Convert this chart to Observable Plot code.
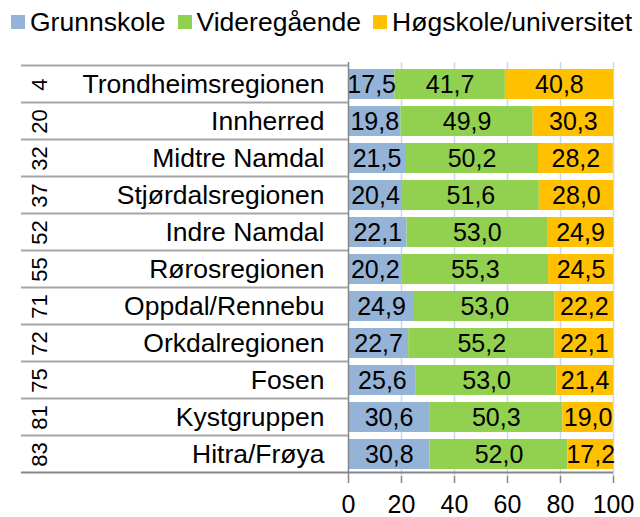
<!DOCTYPE html>
<html><head><meta charset="utf-8">
<script src="https://cdn.jsdelivr.net/npm/d3@7"></script>
<script src="https://cdn.jsdelivr.net/npm/@observablehq/plot@0.6"></script>
<style>
body{margin:0;background:#fff;}
#wrap{position:relative;width:640px;height:517px;font-family:"Liberation Sans",Arial,sans-serif;}
#legend{position:absolute;left:11px;top:7px;display:flex;align-items:center;font-size:26.5px;line-height:30px;color:#000;white-space:nowrap;}
.item{display:flex;align-items:center;margin-right:12px;}
.sw{width:14px;height:14px;margin-right:5px;}
#wrap svg{position:absolute;left:0;top:0;}
</style></head><body><div id="wrap"><div id="legend"></div></div>
<script>
const regions = ["Trondheimsregionen","Innherred","Midtre Namdal","Stjørdalsregionen","Indre Namdal","Rørosregionen","Oppdal/Rennebu","Orkdalregionen","Fosen","Kystgruppen","Hitra/Frøya"];
const ranks = ["4","20","32","37","52","55","71","72","75","81","83"];
const grunnskole = [17.5,19.8,21.5,20.4,22.1,20.2,24.9,22.7,25.6,30.6,30.8];
const videregaende = [41.7,49.9,50.2,51.6,53.0,55.3,53.0,55.2,53.0,50.3,52.0];
const hogskole = [40.8,30.3,28.2,28.0,24.9,24.5,22.2,22.1,21.4,19.0,17.2];
const levels = ["Grunnskole","Videregående","Høgskole/universitet"];
const colors = ["#95b3d7","#92d050","#ffc000"];
const xTicks = [0,20,40,60,80,100];

const series = [grunnskole, videregaende, hogskole];
const data = [];
regions.forEach((r, i) => levels.forEach((l, j) => data.push({region: r, level: l, value: series[j][i]})));
const fmt = v => v.toFixed(1).replace(".", ",");

const W = 640, H = 517, ML = 348, MR = 27, MT = 62, MB = 41;
const chart = Plot.plot({
  width: W, height: H,
  marginLeft: ML, marginRight: MR, marginTop: MT, marginBottom: MB,
  style: {fontFamily: "'Liberation Sans', Arial, sans-serif", fontSize: "26px", color: "#000", background: "transparent"},
  x: {domain: [0, 100], ticks: xTicks, label: null},
  y: {domain: regions, paddingInner: 0.2, paddingOuter: 0.1, label: null},
  color: {domain: levels, range: colors},
  marks: [
    Plot.gridX(xTicks.slice(1), {stroke: "#c6d9f1", strokeOpacity: 1, strokeWidth: 1.5}),
    Plot.barX(data, Plot.stackX({x: "value", y: "region", fill: "level", order: levels})),
    Plot.text(data, Plot.stackX({x: "value", y: "region", z: "level", order: levels, text: d => fmt(d.value), fill: "#000", fontSize: 25})),
    Plot.ruleX([0], {stroke: "#868686", strokeWidth: 1.5}),
    Plot.axisX({ticks: xTicks, tickSize: 7, tickPadding: 12, stroke: "#868686", strokeWidth: 1.5, fontSize: 25, tickFormat: d => String(d), label: null}),
    Plot.axisY({tickSize: 0, tickPadding: 24, fontSize: 26.5, label: null}),
    Plot.text(regions, {y: d => d, text: (d, i) => ranks[i], frameAnchor: "left", dx: -309, rotate: -90, textAnchor: "middle", lineAnchor: "middle", fontSize: 22, fill: "#000"})
  ]
});

document.getElementById("wrap").appendChild(chart);

// table row separator lines, positioned from the y band scale
const ys = chart.scale("y");
const gap = (ys.step - ys.bandwidth) / 2;
const bounds = regions.map(r => ys.apply(r) - gap);
bounds.push(ys.apply(regions[regions.length - 1]) + ys.bandwidth + gap);
const svg = d3.select(chart);
const xs = chart.scale("x");
svg.append("g").selectAll("line").data(bounds).join("line")
  .attr("x1", 21).attr("x2", (d, i) => i === bounds.length - 1 ? xs.apply(100) : ML)
  .attr("y1", d => d).attr("y2", d => d)
  .attr("stroke", (d, i) => i === bounds.length - 1 ? "#868686" : "#a6a6a6")
  .attr("stroke-width", 1.8);

// legend
const legend = d3.select("#legend");
levels.forEach((l, i) => {
  const it = legend.append("div").attr("class", "item");
  it.append("div").attr("class", "sw").style("background", colors[i]);
  it.append("span").text(l);
});
</script>
</body></html>
